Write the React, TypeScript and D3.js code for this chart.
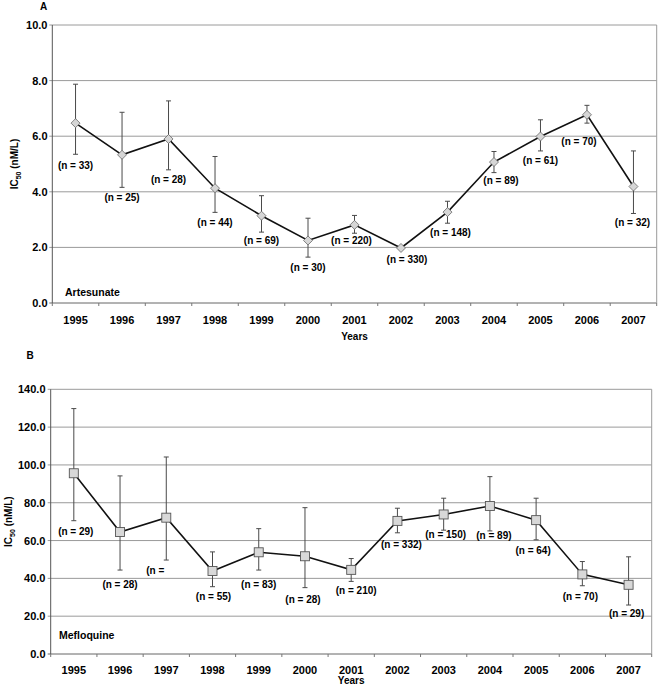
import React from "react";
import * as d3 from "d3";

const years = ["1995","1996","1997","1998","1999","2000","2001","2002","2003","2004","2005","2006","2007"];

// Panel A – Artesunate
const artMean = [6.47, 5.33, 5.90, 4.13, 3.14, 2.25, 2.81, 1.98, 3.27, 5.07, 5.99, 6.77, 4.19];
const artHigh = [7.87, 6.86, 7.27, 5.27, 3.86, 3.05, 3.15, 2.03, 3.66, 5.45, 6.59, 7.11, 5.47];
const artLow  = [5.35, 4.16, 4.79, 3.26, 2.55, 1.65, 2.51, 1.93, 2.87, 4.69, 5.47, 6.47, 3.22];
const artLabels = ["(n = 33)","(n = 25)","(n = 28)","(n = 44)","(n = 69)","(n = 30)","(n = 220)","(n = 330)","(n = 148)","(n = 89)","(n = 61)","(n = 70)","(n = 32)"];
const artTicks = [0, 2, 4, 6, 8, 10];

// Panel B – Mefloquine
const mefMean = [95.6, 64.5, 72.1, 43.9, 53.8, 51.7, 44.5, 70.4, 73.8, 78.3, 70.8, 42.1, 36.6];
const mefHigh = [129.8, 94.2, 104.2, 54.0, 66.3, 77.4, 50.5, 77.1, 82.4, 93.8, 82.4, 48.9, 51.4];
const mefLow  = [70.5, 44.4, 49.7, 35.6, 44.4, 35.1, 38.4, 64.1, 65.5, 65.1, 60.4, 36.1, 25.9];
const mefLabels = ["(n = 29)","(n = 28)","(n =","(n = 55)","(n = 83)","(n = 28)","(n = 210)","(n = 332)","(n = 150)","(n = 89)","(n = 64)","(n = 70)","(n = 29)"];
const mefTicks = [0, 20, 40, 60, 80, 100, 120, 140];

// label nudges (layout only)
const artLabelDx = [0, 0, 0, 0, 0, 0, -3, 6, 3, 7, 0, -8, -1];
const artLabelDy = [1, 0, -1, 0, -2, 0, -3, 0, -1, -3, -1, 8, -1];
const mefLabelDx = [2, 0, -11, 1, 0, -2, 5, 4, 2, 4, -3, -2, -2];
const mefLabelDy = [0, 4, 0, -1, 4, 1, -1, 1, -6, -6, 0, 0, -2];

const FONT = "'Liberation Sans', Arial, Helvetica, sans-serif";

type PanelProps = {
  left: number; right: number; top: number; bottom: number;
  max: number; ticks: number[];
  mean: number[]; high: number[]; low: number[]; labels: string[];
  ldx: number[]; ldy: number[];
  marker: "diamond" | "square";
  letter: string; letterX: number; letterY: number;
  drug: string; drugX: number; drugY: number;
  yTitleX: number; tickLabelY: number; yearsY: number; tickLabelRight: number;
};

function Panel(p: PanelProps) {
  const x = d3.scaleBand<string>().domain(years).range([p.left, p.right]);
  const y = d3.scaleLinear().domain([0, p.max]).range([p.bottom, p.top]);
  const cx = (i: number) => (x(years[i]) as number) + x.bandwidth() / 2;
  const line = d3.line<number>().x((_, i) => cx(i)).y((d) => y(d));
  const midY = (p.top + p.bottom) / 2;
  const midX = (p.left + p.right) / 2;
  return (
    <g>
      <text x={p.letterX} y={p.letterY} fontSize={10} fontWeight="bold" fontFamily={FONT}>{p.letter}</text>
      {/* grid lines */}
      {p.ticks.map((t) => (
        <g key={t}>
          <line x1={p.left - 3} x2={p.right} y1={y(t)} y2={y(t)} stroke={t === 0 ? "#666" : "#9a9a9a"} strokeWidth={1} />
          <text x={p.tickLabelRight} y={y(t) + 4} textAnchor="end" fontSize={11} fontWeight="bold" fontFamily={FONT}>{t.toFixed(1)}</text>
        </g>
      ))}
      {/* frame */}
      <line x1={p.right} x2={p.right} y1={p.top} y2={p.bottom} stroke="#9a9a9a" />
      <line x1={p.left} x2={p.left} y1={p.top} y2={p.bottom} stroke="#555" />
      {/* x ticks at band boundaries */}
      {years.map((yr, i) => (
        <line key={"t" + yr} x1={(x(yr) as number) + (i === 0 ? 0 : 0)} x2={x(yr) as number} y1={p.bottom} y2={p.bottom + 3} stroke="#777" />
      ))}
      <line x1={p.right} x2={p.right} y1={p.bottom} y2={p.bottom + 3} stroke="#777" />
      {years.map((yr, i) => (
        <text key={"l" + yr} x={cx(i)} y={p.tickLabelY} textAnchor="middle" fontSize={11} fontWeight="bold" fontFamily={FONT}>{yr}</text>
      ))}
      <text x={midX} y={p.yearsY} textAnchor="middle" fontSize={10} fontWeight="bold" fontFamily={FONT}>Years</text>
      <text transform={`translate(${p.yTitleX},${midY}) rotate(-90)`} textAnchor="middle" fontSize={10} fontWeight="bold" fontFamily={FONT}>
        IC<tspan fontSize={7} dy={3}>50</tspan><tspan dy={-3}> (nM/L)</tspan>
      </text>
      <text x={p.drugX} y={p.drugY} fontSize={10.5} fontWeight="bold" fontFamily={FONT}>{p.drug}</text>
      {/* error bars */}
      {p.mean.map((_, i) => (
        <g key={"e" + i} stroke="#4a4a4a" strokeWidth={1}>
          <line x1={cx(i)} x2={cx(i)} y1={y(p.high[i])} y2={y(p.low[i])} />
          <line x1={cx(i) - 2.5} x2={cx(i) + 2.5} y1={y(p.high[i])} y2={y(p.high[i])} />
          <line x1={cx(i) - 2.5} x2={cx(i) + 2.5} y1={y(p.low[i])} y2={y(p.low[i])} />
        </g>
      ))}
      <path d={line(p.mean) || ""} fill="none" stroke="#111" strokeWidth={1.6} />
      {p.mean.map((v, i) =>
        p.marker === "diamond" ? (
          <path key={"m" + i} d={`M${cx(i)},${y(v) - 4.5}L${cx(i) + 4.5},${y(v)}L${cx(i)},${y(v) + 4.5}L${cx(i) - 4.5},${y(v)}Z`} fill="#d6d6d6" stroke="#666" strokeWidth={0.8} />
        ) : (
          <rect key={"m" + i} x={cx(i) - 4.5} y={y(v) - 4.5} width={9} height={9} fill="#d8d8d8" stroke="#555" strokeWidth={0.9} />
        )
      )}
      {p.labels.map((l, i) => (
        <text key={"n" + i} x={cx(i) + p.ldx[i]} y={y(p.low[i]) + 14 + p.ldy[i]} textAnchor="middle" fontSize={10} fontWeight="bold" fontFamily={FONT}>{l}</text>
      ))}
    </g>
  );
}

export default function App() {
  return (
    <svg width={661} height={695} style={{ position: "absolute", left: 0, top: 0, background: "#fff" }}>
      <rect width={661} height={695} fill="#fff" />
      <Panel left={52.3} right={656.7} top={25} bottom={303} max={10} ticks={artTicks}
        mean={artMean} high={artHigh} low={artLow} labels={artLabels} ldx={artLabelDx} ldy={artLabelDy}
        marker="diamond" letter="A" letterX={40} letterY={9.5}
        drug="Artesunate" drugX={65} drugY={295.5}
        yTitleX={18} tickLabelY={323.5} yearsY={340} tickLabelRight={47.5} />
      <Panel left={50.7} right={651.7} top={389.3} bottom={654} max={140} ticks={mefTicks}
        mean={mefMean} high={mefHigh} low={mefLow} labels={mefLabels} ldx={mefLabelDx} ldy={mefLabelDy}
        marker="square" letter="B" letterX={26.5} letterY={359}
        drug="Mefloquine" drugX={59} drugY={638.5}
        yTitleX={12} tickLabelY={674} yearsY={684} tickLabelRight={45.5} />
    </svg>
  );
}
